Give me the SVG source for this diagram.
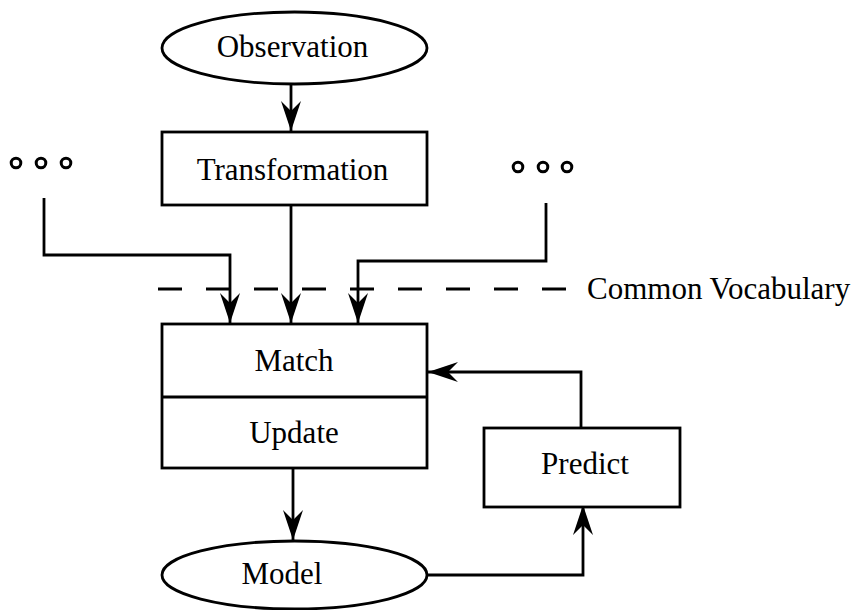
<svg xmlns="http://www.w3.org/2000/svg" width="859" height="610" viewBox="0 0 859 610">
<style>
.s{fill:none;stroke:#000;stroke-width:2.8}
.d{fill:none;stroke:#000;stroke-width:3}
.n{fill:#fff;stroke:#000;stroke-width:2.8}
text{font-family:"Liberation Serif","Times New Roman",serif;font-size:31px;fill:#000}
.c{text-anchor:middle}
</style>
<defs>
<marker id="a" viewBox="0 0 30 20" refX="30" refY="10" markerWidth="30" markerHeight="20" markerUnits="userSpaceOnUse" orient="auto">
<path d="M0,0 L30,10 L0,20 L10,10 Z" fill="#000"/>
</marker>
</defs>
<g id="connectors">
<line class="s" x1="158" y1="289" x2="570" y2="289" stroke-dasharray="24 24"/>
<path class="s" d="M291,84 L291,131" marker-end="url(#a)"/>
<path class="s" d="M44,198 L44,255 L230,255 L230,323" marker-end="url(#a)"/>
<path class="s" d="M291,205 L291,323" marker-end="url(#a)"/>
<path class="s" d="M546,203 L546,261 L358,261 L358,323" marker-end="url(#a)"/>
<path class="s" d="M581,428 L581,372 L428,372" marker-end="url(#a)"/>
<path class="s" d="M293,468 L293,540" marker-end="url(#a)"/>
<path class="s" d="M427,575 L583,575 L583,505" marker-end="url(#a)"/>
</g>
<g id="observation">
<ellipse class="n" cx="294.5" cy="48" rx="132.5" ry="36"/>
<text class="c" x="292.5" y="57">Observation</text>
</g>
<g id="transformation">
<rect class="n" x="162" y="132" width="265" height="73"/>
<text class="c" x="292.5" y="180">Transformation</text>
</g>
<g id="dots-left">
<circle class="d" cx="16" cy="163" r="4.8"/>
<circle class="d" cx="41" cy="163" r="4.8"/>
<circle class="d" cx="66" cy="163" r="4.8"/>
</g>
<g id="dots-right">
<circle class="d" cx="518" cy="167" r="4.8"/>
<circle class="d" cx="543" cy="167" r="4.8"/>
<circle class="d" cx="567" cy="167" r="4.8"/>
</g>
<g id="vocabulary">
<text x="587" y="299">Common Vocabulary</text>
</g>
<g id="match-update">
<rect class="n" x="162" y="324" width="265" height="144"/>
<line class="s" x1="162" y1="397" x2="427" y2="397"/>
<text class="c" x="294" y="371">Match</text>
<text class="c" x="294" y="443">Update</text>
</g>
<g id="predict">
<rect class="n" x="484" y="428" width="196" height="79"/>
<text class="c" x="585" y="474">Predict</text>
</g>
<g id="model">
<ellipse class="n" cx="294.5" cy="575" rx="132.5" ry="34"/>
<text class="c" x="282" y="584">Model</text>
</g>
</svg>
